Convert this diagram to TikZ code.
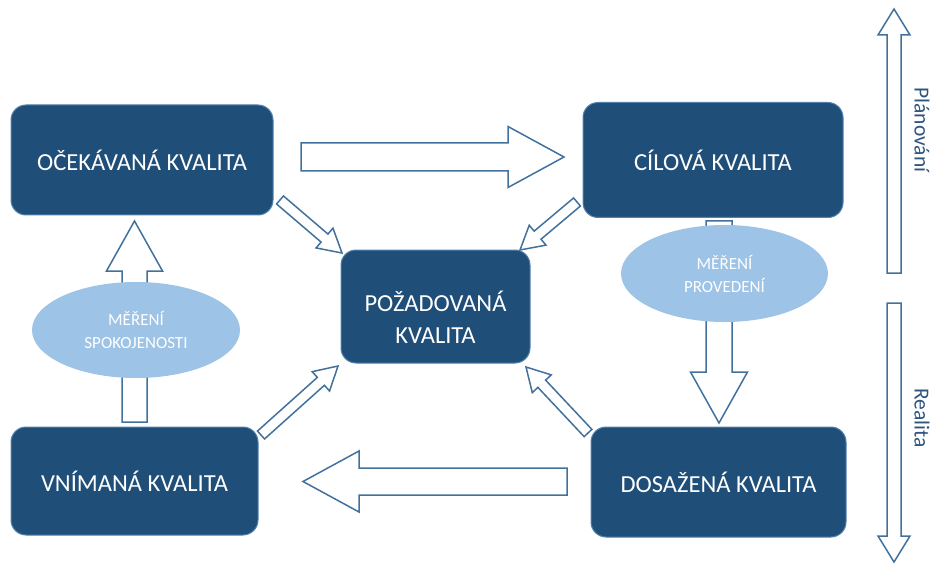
\documentclass[tikz,border=0pt]{standalone}
\usepackage{fontspec}
\setmainfont{Carlito}
\usepackage{tikz}
\usetikzlibrary{calc,positioning,shapes.geometric}

\definecolor{boxblue}{RGB}{31,78,121}
\definecolor{edgeblue}{RGB}{84,130,175}
\definecolor{ellblue}{RGB}{157,195,230}
\definecolor{arrblue}{RGB}{65,113,156}
\definecolor{txtblue}{RGB}{46,84,128}

\tikzset{
  qbox/.style={rectangle, rounded corners=15pt, fill=boxblue, draw=edgeblue, line width=1pt,
    text=white, align=center, font=\fontsize{24.5}{32}\selectfont},
  measure/.style={ellipse, fill=ellblue, text=white, align=center, inner sep=0pt,
    font=\fontsize{17}{23}\selectfont},
  fatarr/.style={draw=arrblue, fill=white, line width=1.5pt, line join=miter},
  side/.style={text=txtblue, rotate=-90, font=\fontsize{21.5}{25}\selectfont}
}

% block arrow: tail, tip, shaft half width, head half width, head length
\newcommand{\fatarrow}[5]{%
  \path ($(#2)!#5pt!(#1)$) coordinate (hb);
  \draw[fatarr] ($(#1)!#3pt!90:(#2)$) -- ($(hb)!#3pt!90:(#2)$) -- ($(hb)!#4pt!90:(#2)$)
    -- (#2) -- ($(hb)!#4pt!-90:(#2)$) -- ($(hb)!#3pt!-90:(#2)$) -- ($(#1)!#3pt!-90:(#2)$) -- cycle;
}

\begin{document}
\begin{tikzpicture}[x=1pt,y=-1pt]
\useasboundingbox (0,0) rectangle (934,564);

% quality boxes
\node[qbox, minimum width=262pt, minimum height=110pt] (ocek) at (142,160) {OČEKÁVANÁ KVALITA};
\node[qbox, minimum width=260pt, minimum height=115pt] (cil) at (713,160) {CÍLOVÁ KVALITA};
\node[qbox, minimum width=189pt, minimum height=113pt] (poz) at (435.5,306.5) {\rule{0pt}{41pt}POŽADOVANÁ\\KVALITA};
\node[qbox, minimum width=247pt, minimum height=108pt] (vnim) at (134.5,481) {VNÍMANÁ KVALITA};
\node[qbox, minimum width=255pt, minimum height=110pt] (dos) at (718.5,482) {DOSAŽENÁ KVALITA};

% arrow ends
\coordinate (oc-out) at (301,157);   \coordinate (cil-in) at (564,157);
\coordinate (dos-out) at (567,481.5); \coordinate (vn-in) at (303,481.5);
\coordinate (vn-up) at (134.5,422);  \coordinate (oc-in) at (134.5,221);
\coordinate (cil-dn) at (719,221);   \coordinate (dos-in) at (719,423);
\coordinate (oc-d) at (280,200);     \coordinate (poz-nw) at (342,253);
\coordinate (cil-d) at (577,202);    \coordinate (poz-ne) at (520,250);
\coordinate (vn-d) at (261,435);     \coordinate (poz-sw) at (338,366);
\coordinate (dos-d) at (588,433);    \coordinate (poz-se) at (526,367);
\coordinate (pl-a) at (894,273);     \coordinate (pl-b) at (894,9);
\coordinate (re-a) at (894,303);     \coordinate (re-b) at (894,562);

\fatarrow{oc-out}{cil-in}{14}{30.5}{56}
\fatarrow{dos-out}{vn-in}{13.5}{30.5}{56}
\fatarrow{vn-up}{oc-in}{12.5}{28}{50}
\fatarrow{cil-dn}{dos-in}{13}{28.5}{51}
\fatarrow{oc-d}{poz-nw}{5.3}{13}{23}
\fatarrow{cil-d}{poz-ne}{5.3}{13}{23}
\fatarrow{vn-d}{poz-sw}{5.3}{13}{23}
\fatarrow{dos-d}{poz-se}{5.3}{13}{23}
\fatarrow{pl-a}{pl-b}{7}{16}{26}
\fatarrow{re-a}{re-b}{7}{16}{26}

% measuring
\node[measure, minimum width=208pt, minimum height=96pt] (spok) at (136,330) {MĚŘENÍ\\SPOKOJENOSTI};
\node[measure, minimum width=207pt, minimum height=97pt] (prov) at (724.5,273.5) {MĚŘENÍ\\PROVEDENÍ};

\node[side] (plan) at (922,130) {Plánování};
\node[side] (real) at (922,418) {Realita};
\end{tikzpicture}
\end{document}
